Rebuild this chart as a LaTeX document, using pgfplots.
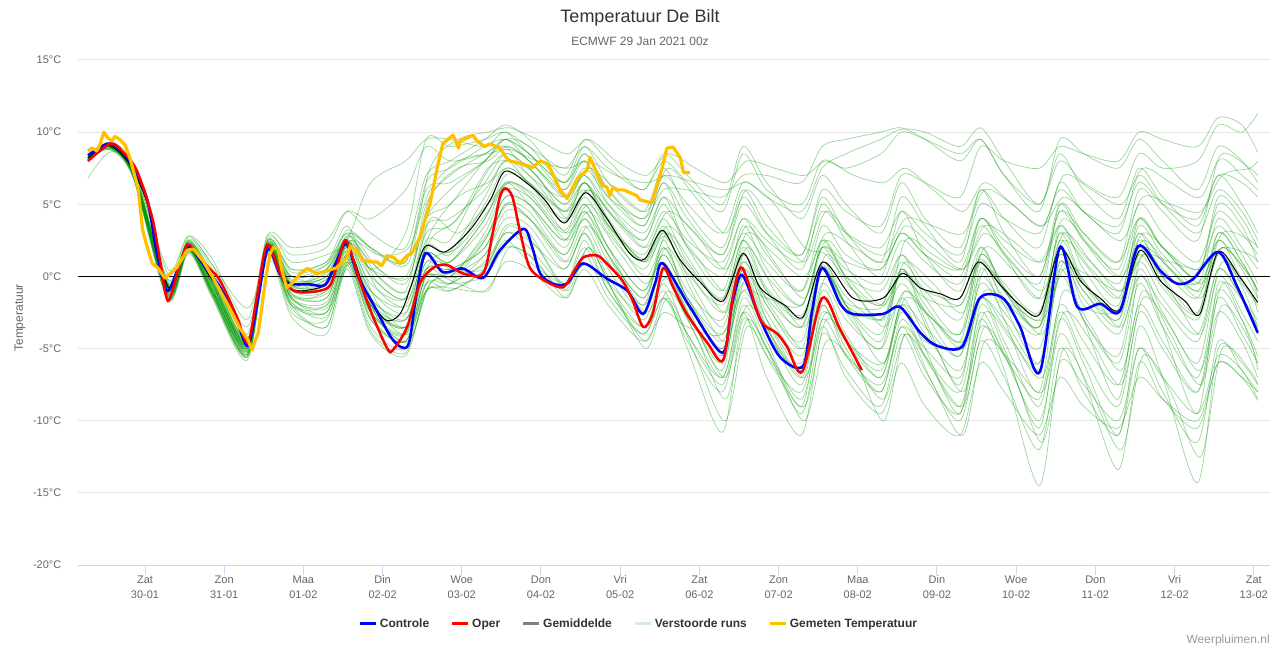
\documentclass[border=0pt]{standalone}
\usepackage{fontspec}
\setmainfont{Liberation Sans}
\usepackage{pgfplots}
\pgfplotsset{compat=1.18}
\definecolor{ttl}{HTML}{333333}
\definecolor{lbl}{HTML}{666666}
\definecolor{gridc}{HTML}{E6E6E6}
\definecolor{axc}{HTML}{CCD6EB}
\definecolor{ensc}{HTML}{009900}
\definecolor{meas}{HTML}{FFC000}
\definecolor{legens}{HTML}{D5EDD5}
\definecolor{credit}{HTML}{999999}
\definecolor{ctrl}{HTML}{0000FF}
\definecolor{oper}{HTML}{FF0000}
\pgfplotsset{
  ens/.style={color=ensc, draw opacity=0.38, line width=0.55pt, smooth, tension=0.5, forget plot},
}
\begin{document}
\begin{tikzpicture}[x=1pt,y=1pt]
\path[use as bounding box] (0,0) rectangle (960,487.5);
\node[text=ttl, font=\fontsize{13.5}{16}\selectfont] at (480,474) {Temperatuur De Bilt};
\node[text=lbl, font=\fontsize{9}{11}\selectfont] at (480,456.75) {ECMWF 29 Jan 2021 00z};
\node[text=lbl, rotate=90, font=\fontsize{9}{11}\selectfont] at (15,249) {Temperatuur};
\node[text=credit, anchor=east, inner sep=0pt, font=\fontsize{9}{11}\selectfont] at (952.5,7.5) {Weerpluimen.nl};
\begin{axis}[
  at={(58.5pt,63.75pt)}, anchor=south west,
  scale only axis, width=894pt, height=378.75pt,
  xmin=-0.846, xmax=14.205, ymin=-20, ymax=15,
  axis x line*=bottom, axis y line*=left,
  x axis line style={draw=axc, line width=0.75pt, -},
  y axis line style={draw=none},
  xtick={0,1,...,14},
  xticklabels={{Zat\\30-01},{Zon\\31-01},{Maa\\01-02},{Din\\02-02},{Woe\\03-02},{Don\\04-02},{Vri\\05-02},{Zat\\06-02},{Zon\\07-02},{Maa\\08-02},{Din\\09-02},{Woe\\10-02},{Don\\11-02},{Vri\\12-02},{Zat\\13-02}},
  xtick align=outside,
  major tick length=7.5pt,
  xtick style={draw=axc, line width=0.75pt},
  ytick={-20,-15,-10,-5,0,5,10,15},
  yticklabels={-20°C,-15°C,-10°C,-5°C,0°C,5°C,10°C,15°C},
  ytick style={draw=none},
  ymajorgrids, grid style={draw=gridc, line width=0.75pt},
  ticklabel style={text=lbl, font=\fontsize{8.25}{11.25}\selectfont},
  xticklabel style={align=center, yshift=3pt},
  yticklabel style={xshift=-9pt},
  legend columns=5,
  legend style={at={(0.4706,-0.1168)}, anchor=center, draw=none, fill=none,
    font=\bfseries\fontsize{9}{11}\selectfont, text=ttl,
    /tikz/every even column/.append style={column sep=14pt}},
  legend image code/.code={\draw (0pt,0pt) -- (12pt,0pt);},
]
% ensemble members
\addplot[ens] coordinates {(-0.72,8.2)(-0.45,9.0)(-0.15,7.2)(0.29,-0.9)(0.55,2.0)(0.85,-0.7)(1.29,-4.9)(1.55,2.2)(1.85,-0.9)(2.29,-0.8)(2.55,2.0)(2.85,-1.8)(3.29,-3.0)(3.55,1.5)(3.85,1.0)(4.29,3.5)(4.55,6.5)(4.85,5.8)(5.29,3.2)(5.55,5.5)(5.85,3.0)(6.29,0.5)(6.55,2.8)(6.85,0.2)(7.29,-2.0)(7.55,1.5)(7.85,-1.0)(8.29,-3.0)(8.55,0.8)(8.85,-1.8)(9.29,-2.2)(9.55,0.0)(9.85,-1.5)(10.29,-2.0)(10.55,1.2)(10.85,-1.0)(11.29,-3.0)(11.55,2.0)(11.85,-0.5)(12.29,-2.5)(12.55,1.5)(12.85,-0.8)(13.29,-3.0)(13.55,1.5)(13.85,-0.5)(14.05,-2.0)};
\addplot[ens] coordinates {(-0.72,8.4)(-0.45,9.2)(-0.15,7.5)(0.29,-0.5)(0.55,2.4)(0.85,0.2)(1.29,-4.5)(1.55,2.5)(1.85,0.5)(2.29,1.0)(2.55,3.5)(2.85,0.5)(3.29,3.0)(3.55,9.5)(3.85,9.0)(4.29,9.5)(4.55,10.0)(4.85,9.0)(5.29,7.5)(5.55,9.0)(5.85,7.5)(6.29,6.0)(6.55,8.0)(6.85,6.5)(7.29,4.5)(7.55,8.5)(7.85,6.0)(8.29,5.0)(8.55,8.0)(8.85,7.5)(9.29,8.5)(9.55,10.0)(9.85,9.5)(10.29,8.5)(10.55,9.5)(10.85,7.0)(11.29,5.0)(11.55,8.0)(11.85,6.5)(12.29,5.5)(12.55,8.5)(12.85,7.5)(13.29,8.0)(13.55,10.5)(13.85,10.0)(14.05,11.3)};
\addplot[ens] coordinates {(-0.72,8.0)(-0.45,9.0)(-0.15,7.0)(0.29,-1.5)(0.55,1.8)(0.85,-1.2)(1.29,-5.5)(1.55,1.8)(1.85,-2.0)(2.29,-3.5)(2.55,1.0)(2.85,-3.5)(3.29,-5.0)(3.55,-0.5)(3.85,-0.5)(4.29,1.0)(4.55,3.0)(4.85,2.5)(5.29,0.5)(5.55,3.0)(5.85,0.0)(6.29,-3.0)(6.55,0.0)(6.85,-3.0)(7.29,-7.0)(7.55,-1.5)(7.85,-4.5)(8.29,-9.0)(8.55,-2.0)(8.85,-5.5)(9.29,-8.0)(9.55,-3.5)(9.85,-6.5)(10.29,-10.0)(10.55,-4.5)(10.85,-7.0)(11.29,-12.0)(11.55,-5.0)(11.85,-8.0)(12.29,-11.0)(12.55,-5.0)(12.85,-8.0)(13.29,-11.5)(13.55,-4.5)(13.85,-6.5)(14.05,-8.0)};
\addplot[ens] coordinates {(-0.72,8.3)(-0.45,9.1)(-0.15,7.6)(0.29,-0.2)(0.55,2.6)(0.85,0.8)(1.29,-3.5)(1.55,2.6)(1.85,1.5)(2.29,2.0)(2.55,4.5)(2.85,4.0)(3.29,6.0)(3.55,9.0)(3.85,8.0)(4.29,8.5)(4.55,9.5)(4.85,8.5)(5.29,6.0)(5.55,8.0)(5.85,5.5)(6.29,3.5)(6.55,6.5)(6.85,3.0)(7.29,0.5)(7.55,4.0)(7.85,1.5)(8.29,-1.0)(8.55,2.5)(8.85,0.0)(9.29,-1.0)(9.55,1.5)(9.85,-0.5)(10.29,-2.0)(10.55,1.0)(10.85,-1.5)(11.29,-3.5)(11.55,1.5)(11.85,-1.0)(12.29,-3.0)(12.55,2.0)(12.85,0.5)(13.29,-1.5)(13.55,3.0)(13.85,1.0)(14.05,-1.0)};
\addplot[ens] coordinates {(-0.72,8.1)(-0.45,9.0)(-0.15,7.0)(0.29,-1.2)(0.55,1.9)(0.85,-0.9)(1.29,-5.2)(1.55,2.0)(1.85,-1.5)(2.29,-1.8)(2.55,1.5)(2.85,-2.5)(3.29,-4.0)(3.55,0.5)(3.85,0.5)(4.29,2.0)(4.55,5.0)(4.85,4.5)(5.29,1.5)(5.55,4.0)(5.85,1.5)(6.29,-1.5)(6.55,1.5)(6.85,-1.5)(7.29,-4.0)(7.55,0.5)(7.85,-2.5)(8.29,-5.5)(8.55,-0.5)(8.85,-3.0)(9.29,-5.0)(9.55,-1.5)(9.85,-4.0)(10.29,-6.5)(10.55,-1.5)(10.85,-3.5)(11.29,-6.5)(11.55,0.0)(11.85,-3.0)(12.29,-6.0)(12.55,-0.5)(12.85,-3.5)(13.29,-7.0)(13.55,-1.0)(13.85,-3.0)(14.05,-5.5)};
\addplot[ens] coordinates {(-0.72,8.2)(-0.45,9.1)(-0.15,7.4)(0.29,-0.6)(0.55,2.3)(0.85,-0.4)(1.29,-4.6)(1.55,2.3)(1.85,-0.2)(2.29,0.0)(2.55,2.8)(2.85,1.0)(3.29,-0.5)(3.55,4.0)(3.85,6.0)(4.29,8.0)(4.55,9.5)(4.85,9.0)(5.29,6.5)(5.55,8.5)(5.85,6.0)(6.29,4.0)(6.55,7.0)(6.85,5.0)(7.29,3.0)(7.55,6.5)(7.85,5.5)(8.29,4.5)(8.55,7.5)(8.85,8.5)(9.29,9.5)(9.55,10.2)(9.85,10.0)(10.29,9.0)(10.55,10.3)(10.85,8.0)(11.29,5.0)(11.55,8.5)(11.85,6.0)(12.29,4.0)(12.55,7.5)(12.85,5.5)(13.29,3.5)(13.55,7.0)(13.85,5.0)(14.05,3.0)};
\addplot[ens] coordinates {(-0.72,8.0)(-0.45,8.9)(-0.15,7.1)(0.29,-1.0)(0.55,2.0)(0.85,-1.0)(1.29,-5.0)(1.55,1.9)(1.85,-1.5)(2.29,-2.5)(2.55,1.5)(2.85,-2.0)(3.29,-3.5)(3.55,0.0)(3.85,0.0)(4.29,1.5)(4.55,4.0)(4.85,3.5)(5.29,0.5)(5.55,3.0)(5.85,-0.5)(6.29,-3.5)(6.55,-1.0)(6.85,-5.0)(7.29,-10.8)(7.55,-3.0)(7.85,-5.5)(8.29,-8.0)(8.55,-2.5)(8.85,-4.5)(9.29,-6.5)(9.55,-2.0)(9.85,-3.5)(10.29,-5.5)(10.55,-0.5)(10.85,-2.5)(11.29,-5.0)(11.55,1.0)(11.85,-1.5)(12.29,-4.0)(12.55,0.0)(12.85,-2.0)(13.29,-4.5)(13.55,0.5)(13.85,-1.5)(14.05,-3.5)};
\addplot[ens] coordinates {(-0.72,8.3)(-0.45,9.2)(-0.15,7.3)(0.29,-0.7)(0.55,2.2)(0.85,-0.6)(1.29,-4.7)(1.55,2.1)(1.85,-0.5)(2.29,0.5)(2.55,2.5)(2.85,0.0)(3.29,-1.5)(3.55,3.0)(3.85,3.5)(4.29,6.5)(4.55,8.5)(4.85,7.5)(5.29,5.0)(5.55,7.0)(5.85,4.5)(6.29,2.5)(6.55,5.0)(6.85,2.0)(7.29,0.0)(7.55,3.0)(7.85,1.0)(8.29,-1.0)(8.55,3.5)(8.85,1.5)(9.29,0.5)(9.55,3.0)(9.85,1.5)(10.29,0.0)(10.55,4.0)(10.85,2.0)(11.29,0.0)(11.55,4.5)(11.85,2.5)(12.29,0.5)(12.55,5.0)(12.85,3.0)(13.29,1.0)(13.55,4.5)(13.85,3.0)(14.05,1.5)};
\addplot[ens] coordinates {(-0.72,8.1)(-0.45,9.0)(-0.15,7.2)(0.29,-1.3)(0.55,1.9)(0.85,-1.3)(1.29,-5.4)(1.55,1.8)(1.85,-2.5)(2.29,-3.0)(2.55,1.2)(2.85,-3.0)(3.29,-4.5)(3.55,-0.5)(3.85,-1.0)(4.29,0.5)(4.55,3.5)(4.85,3.0)(5.29,-0.5)(5.55,2.5)(5.85,-1.0)(6.29,-3.5)(6.55,-0.5)(6.85,-4.0)(7.29,-7.5)(7.55,-2.5)(7.85,-7.0)(8.29,-11.0)(8.55,-4.0)(8.85,-6.5)(9.29,-9.0)(9.55,-4.0)(9.85,-7.0)(10.29,-9.5)(10.55,-3.5)(10.85,-5.5)(11.29,-8.5)(11.55,-2.0)(11.85,-4.5)(12.29,-7.5)(12.55,-2.0)(12.85,-4.5)(13.29,-8.0)(13.55,-2.5)(13.85,-4.5)(14.05,-7.0)};
\addplot[ens] coordinates {(-0.72,8.2)(-0.45,9.1)(-0.15,7.5)(0.29,-0.3)(0.55,2.5)(0.85,0.5)(1.29,-4.0)(1.55,2.8)(1.85,1.0)(2.29,1.5)(2.55,2.5)(2.85,6.5)(3.29,8.0)(3.55,9.5)(3.85,9.5)(4.29,9.0)(4.55,10.0)(4.85,8.5)(5.29,6.5)(5.55,8.0)(5.85,5.0)(6.29,2.5)(6.55,5.5)(6.85,2.0)(7.29,-1.0)(7.55,3.5)(7.85,0.5)(8.29,-2.0)(8.55,2.0)(8.85,-0.5)(9.29,-2.0)(9.55,1.0)(9.85,-1.0)(10.29,-3.0)(10.55,1.5)(10.85,-0.5)(11.29,-2.5)(11.55,3.0)(11.85,1.0)(12.29,-1.5)(12.55,3.5)(12.85,1.5)(13.29,-0.5)(13.55,4.0)(13.85,2.0)(14.05,0.5)};
\addplot[ens] coordinates {(-0.72,8.2)(-0.45,9.1)(-0.15,7.2)(0.29,-0.8)(0.55,2.1)(0.85,-0.8)(1.29,-4.9)(1.55,2.0)(1.85,-1.0)(2.29,-0.5)(2.55,2.2)(2.85,-1.0)(3.29,-2.5)(3.55,2.0)(3.85,1.5)(4.29,5.0)(4.55,7.5)(4.85,6.5)(5.29,4.0)(5.55,6.5)(5.85,3.5)(6.29,1.0)(6.55,3.5)(6.85,0.5)(7.29,-2.5)(7.55,1.0)(7.85,-1.5)(8.29,-3.5)(8.55,0.5)(8.85,-2.0)(9.29,-3.0)(9.55,-0.5)(9.85,-2.5)(10.29,-4.0)(10.55,0.0)(10.85,-2.0)(11.29,-4.0)(11.55,1.5)(11.85,-1.0)(12.29,-3.5)(12.55,1.0)(12.85,-1.5)(13.29,-4.0)(13.55,0.5)(13.85,-1.5)(14.05,-3.0)};
\addplot[ens] coordinates {(-0.72,8.0)(-0.45,8.8)(-0.15,6.9)(0.29,-1.6)(0.55,1.7)(0.85,-1.4)(1.29,-5.6)(1.55,1.6)(1.85,-2.0)(2.29,-2.0)(2.55,1.0)(2.85,-2.5)(3.29,-4.0)(3.55,-1.0)(3.85,-0.5)(4.29,2.5)(4.55,5.5)(4.85,5.0)(5.29,2.5)(5.55,5.0)(5.85,2.0)(6.29,-1.0)(6.55,2.0)(6.85,-1.5)(7.29,-5.0)(7.55,-0.5)(7.85,-3.5)(8.29,-7.0)(8.55,-1.5)(8.85,-4.5)(9.29,-7.0)(9.55,-2.5)(9.85,-5.5)(10.29,-9.0)(10.55,-3.0)(10.85,-6.5)(11.29,-14.5)(11.55,-6.0)(11.85,-7.5)(12.29,-10.0)(12.55,-5.0)(12.85,-7.0)(13.29,-9.5)(13.55,-5.5)(13.85,-6.5)(14.05,-8.5)};
\addplot[ens] coordinates {(-0.72,8.3)(-0.45,9.2)(-0.15,7.4)(0.29,-0.6)(0.55,2.4)(0.85,-0.2)(1.29,-4.4)(1.55,2.4)(1.85,0.0)(2.29,0.5)(2.55,3.0)(2.85,0.5)(3.29,-1.0)(3.55,5.0)(3.85,7.0)(4.29,8.5)(4.55,9.0)(4.85,7.0)(5.29,5.5)(5.55,7.5)(5.85,5.5)(6.29,4.0)(6.55,6.0)(6.85,6.0)(7.29,5.5)(7.55,7.0)(7.85,7.0)(8.29,6.5)(8.55,9.0)(8.85,9.5)(9.29,10.0)(9.55,10.3)(9.85,9.5)(10.29,8.0)(10.55,9.5)(10.85,7.0)(11.29,4.5)(11.55,9.5)(11.85,8.5)(12.29,7.5)(12.55,9.5)(12.85,8.0)(13.29,6.0)(13.55,9.0)(13.85,8.0)(14.05,6.5)};
\addplot[ens] coordinates {(-0.72,8.1)(-0.45,9.0)(-0.15,7.0)(0.29,-1.1)(0.55,2.0)(0.85,-1.0)(1.29,-5.1)(1.55,2.1)(1.85,-1.2)(2.29,-1.5)(2.55,1.8)(2.85,-2.2)(3.29,-3.5)(3.55,1.0)(3.85,0.0)(4.29,3.0)(4.55,6.0)(4.85,5.5)(5.29,3.0)(5.55,5.0)(5.85,2.0)(6.29,-2.0)(6.55,2.5)(6.85,-2.0)(7.29,-6.5)(7.55,1.0)(7.85,-3.0)(8.29,-6.5)(8.55,0.5)(8.85,-2.5)(9.29,-5.0)(9.55,0.5)(9.85,-3.0)(10.29,-7.5)(10.55,0.5)(10.85,-3.0)(11.29,-8.0)(11.55,1.0)(11.85,-3.0)(12.29,-8.5)(12.55,0.0)(12.85,-3.5)(13.29,-9.5)(13.55,-0.5)(13.85,-3.0)(14.05,-6.0)};
\addplot[ens] coordinates {(-0.72,8.2)(-0.45,9.0)(-0.15,7.3)(0.29,-0.9)(0.55,2.1)(0.85,-0.5)(1.29,-4.8)(1.55,2.2)(1.85,-0.7)(2.29,-0.2)(2.55,2.5)(2.85,-1.0)(3.29,-2.0)(3.55,2.5)(3.85,2.5)(4.29,7.0)(4.55,8.5)(4.85,7.5)(5.29,5.0)(5.55,6.5)(5.85,4.5)(6.29,2.0)(6.55,4.5)(6.85,2.5)(7.29,1.0)(7.55,4.0)(7.85,2.5)(8.29,1.0)(8.55,4.5)(8.85,3.0)(9.29,2.0)(9.55,4.5)(9.85,3.0)(10.29,1.5)(10.55,5.0)(10.85,4.0)(11.29,3.0)(11.55,6.0)(11.85,4.5)(12.29,3.5)(12.55,6.5)(12.85,5.0)(13.29,4.0)(13.55,7.0)(13.85,6.5)(14.05,5.5)};
\addplot[ens] coordinates {(-0.72,8.0)(-0.45,8.9)(-0.15,7.0)(0.29,-1.4)(0.55,1.8)(0.85,-1.1)(1.29,-5.3)(1.55,1.7)(1.85,-1.8)(2.29,-2.5)(2.55,1.4)(2.85,-2.8)(3.29,-4.5)(3.55,0.0)(3.85,-0.5)(4.29,1.5)(4.55,4.5)(4.85,4.0)(5.29,1.0)(5.55,3.5)(5.85,0.5)(6.29,-2.5)(6.55,0.5)(6.85,-2.5)(7.29,-5.5)(7.55,-1.0)(7.85,-4.0)(8.29,-6.5)(8.55,-2.0)(8.85,-5.0)(9.29,-8.0)(9.55,-3.0)(9.85,-5.5)(10.29,-8.0)(10.55,-2.5)(10.85,-5.5)(11.29,-10.0)(11.55,-4.0)(11.85,-7.0)(12.29,-13.4)(12.55,-6.0)(12.85,-8.5)(13.29,-10.5)(13.55,-6.0)(13.85,-7.0)(14.05,-8.6)};
\addplot[ens] coordinates {(-0.72,8.3)(-0.45,9.2)(-0.15,7.2)(0.29,-1.0)(0.55,2.1)(0.85,-0.6)(1.29,-4.8)(1.55,1.9)(1.85,-0.6)(2.29,-0.6)(2.55,2.3)(2.85,-2.5)(3.29,-4.0)(3.55,1.5)(3.85,0.5)(4.29,0.5)(4.55,2.5)(4.85,1.0)(5.29,-0.5)(5.55,0.8)(5.85,-0.5)(6.29,-2.5)(6.55,0.8)(6.85,-2.0)(7.29,-5.0)(7.55,0.2)(7.85,-3.0)(8.29,-6.0)(8.55,0.6)(8.85,-2.5)(9.29,-2.7)(9.55,-2.1)(9.85,-4.5)(10.29,-4.8)(10.55,-1.5)(10.85,-3.0)(11.29,-6.0)(11.55,2.0)(11.85,-2.0)(12.29,-2.3)(12.55,2.0)(12.85,0.0)(13.29,-0.5)(13.55,1.7)(13.85,-0.7)(14.05,-3.5)};
\addplot[ens] coordinates {(-0.72,8.2)(-0.45,9.1)(-0.15,7.4)(0.29,-0.7)(0.55,2.3)(0.85,-0.3)(1.29,-4.5)(1.55,2.4)(1.85,0.0)(2.29,0.8)(2.55,3.2)(2.85,2.0)(3.29,1.0)(3.55,6.0)(3.85,6.5)(4.29,8.0)(4.55,9.5)(4.85,8.0)(5.29,6.0)(5.55,8.5)(5.85,6.0)(6.29,3.5)(6.55,6.5)(6.85,4.0)(7.29,1.5)(7.55,5.5)(7.85,3.0)(8.29,0.5)(8.55,5.0)(8.85,2.5)(9.29,0.0)(9.55,4.5)(9.85,1.5)(10.29,-1.0)(10.55,4.0)(10.85,1.5)(11.29,-1.5)(11.55,5.0)(11.85,3.0)(12.29,1.0)(12.55,6.0)(12.85,4.5)(13.29,2.5)(13.55,8.0)(13.85,7.0)(14.05,6.0)};
\addplot[ens] coordinates {(-0.72,8.1)(-0.45,9.0)(-0.15,7.1)(0.29,-1.2)(0.55,1.9)(0.85,-1.0)(1.29,-5.0)(1.55,2.0)(1.85,-1.3)(2.29,-1.5)(2.55,1.7)(2.85,-2.0)(3.29,-3.5)(3.55,0.5)(3.85,0.5)(4.29,2.0)(4.55,5.0)(4.85,4.0)(5.29,1.5)(5.55,4.0)(5.85,1.0)(6.29,-2.0)(6.55,1.0)(6.85,-2.5)(7.29,-6.0)(7.55,0.0)(7.85,-3.5)(8.29,-7.5)(8.55,-1.0)(8.85,-4.0)(9.29,-7.0)(9.55,-2.0)(9.85,-5.0)(10.29,-9.5)(10.55,-2.0)(10.85,-5.0)(11.29,-10.5)(11.55,-3.0)(11.85,-6.0)(12.29,-11.0)(12.55,-3.5)(12.85,-7.0)(13.29,-14.3)(13.55,-5.0)(13.85,-6.0)(14.05,-7.5)};
\addplot[ens] coordinates {(-0.72,8.3)(-0.45,9.1)(-0.15,7.3)(0.29,-0.5)(0.55,2.4)(0.85,-0.4)(1.29,-4.6)(1.55,2.2)(1.85,-0.3)(2.29,0.2)(2.55,2.6)(2.85,-0.5)(3.29,-1.5)(3.55,3.5)(3.85,4.0)(4.29,6.0)(4.55,8.0)(4.85,7.0)(5.29,4.5)(5.55,6.0)(5.85,3.5)(6.29,1.5)(6.55,4.0)(6.85,1.0)(7.29,-1.5)(7.55,2.5)(7.85,0.0)(8.29,-2.0)(8.55,2.0)(8.85,0.5)(9.29,-0.5)(9.55,2.5)(9.85,1.0)(10.29,-0.5)(10.55,3.5)(10.85,1.5)(11.29,-0.5)(11.55,4.5)(11.85,3.0)(12.29,1.0)(12.55,4.0)(12.85,2.0)(13.29,0.5)(13.55,3.5)(13.85,1.5)(14.05,-0.5)};
\addplot[ens] coordinates {(-0.72,8.1)(-0.45,8.9)(-0.15,7.0)(0.29,-1.3)(0.55,1.8)(0.85,-1.2)(1.29,-5.5)(1.55,1.8)(1.85,-1.6)(2.29,-2.0)(2.55,1.3)(2.85,-3.0)(3.29,-4.5)(3.55,0.0)(3.85,-0.5)(4.29,0.0)(4.55,2.0)(4.85,1.5)(5.29,-1.0)(5.55,1.5)(5.85,-1.5)(6.29,-4.0)(6.55,-1.5)(6.85,-4.5)(7.29,-8.0)(7.55,-2.5)(7.85,-5.0)(8.29,-8.5)(8.55,-3.0)(8.85,-5.5)(9.29,-7.5)(9.55,-3.5)(9.85,-5.0)(10.29,-7.0)(10.55,-1.5)(10.85,-4.5)(11.29,-9.0)(11.55,-2.5)(11.85,-5.5)(12.29,-9.0)(12.55,-2.5)(12.85,-5.0)(13.29,-8.0)(13.55,-1.5)(13.85,-4.0)(14.05,-6.0)};
\addplot[ens] coordinates {(-0.72,8.2)(-0.45,9.1)(-0.15,7.3)(0.29,-0.6)(0.55,2.2)(0.85,-0.4)(1.29,-4.7)(1.55,2.2)(1.85,-0.4)(2.29,0.0)(2.55,2.4)(2.85,0.5)(3.29,0.0)(3.55,4.0)(3.85,5.0)(4.29,8.0)(4.55,9.0)(4.85,8.0)(5.29,5.5)(5.55,7.0)(5.85,5.0)(6.29,3.0)(6.55,5.5)(6.85,3.5)(7.29,1.5)(7.55,5.0)(7.85,3.0)(8.29,1.5)(8.55,6.0)(8.85,4.5)(9.29,3.5)(9.55,7.0)(9.85,6.5)(10.29,5.5)(10.55,9.0)(10.85,8.0)(11.29,7.5)(11.55,9.0)(11.85,8.5)(12.29,8.0)(12.55,10.0)(12.85,9.5)(13.29,9.0)(13.55,11.0)(13.85,10.5)(14.05,8.6)};
\addplot[ens] coordinates {(-0.72,8.2)(-0.45,9.0)(-0.15,7.2)(0.29,-1.0)(0.55,2.0)(0.85,-0.9)(1.29,-5.0)(1.55,2.0)(1.85,-1.0)(2.29,-1.0)(2.55,2.0)(2.85,-2.0)(3.29,-3.0)(3.55,1.0)(3.85,1.0)(4.29,4.0)(4.55,7.0)(4.85,6.5)(5.29,4.5)(5.55,6.5)(5.85,4.0)(6.29,1.0)(6.55,3.0)(6.85,0.0)(7.29,-3.5)(7.55,1.5)(7.85,-2.0)(8.29,-4.5)(8.55,1.0)(8.85,-2.0)(9.29,-4.5)(9.55,0.5)(9.85,-2.5)(10.29,-5.5)(10.55,1.0)(10.85,-2.0)(11.29,-6.0)(11.55,0.5)(11.85,-3.0)(12.29,-5.5)(12.55,0.5)(12.85,-2.5)(13.29,-6.0)(13.55,0.0)(13.85,-2.5)(14.05,-4.5)};
\addplot[ens] coordinates {(-0.72,8.0)(-0.45,8.9)(-0.15,6.9)(0.29,-1.5)(0.55,1.7)(0.85,-1.3)(1.29,-5.6)(1.55,1.6)(1.85,-2.2)(2.29,-3.5)(2.55,0.8)(2.85,-3.8)(3.29,-5.3)(3.55,-1.0)(3.85,-0.8)(4.29,-1.0)(4.55,1.0)(4.85,0.5)(5.29,-1.5)(5.55,0.5)(5.85,-2.0)(6.29,-4.5)(6.55,-2.5)(6.85,-3.5)(7.29,-4.0)(7.55,-1.0)(7.85,-1.5)(8.29,-2.0)(8.55,2.0)(8.85,1.0)(9.29,0.5)(9.55,3.0)(9.85,1.5)(10.29,0.5)(10.55,4.0)(10.85,2.5)(11.29,1.0)(11.55,3.5)(11.85,1.5)(12.29,-0.5)(12.55,3.0)(12.85,1.0)(13.29,-1.0)(13.55,2.5)(13.85,0.5)(14.05,-1.5)};
\addplot[ens] coordinates {(-0.72,8.4)(-0.45,9.3)(-0.15,7.8)(0.29,0.2)(0.55,2.8)(0.85,1.2)(1.29,-3.0)(1.55,2.9)(1.85,2.0)(2.29,2.5)(2.55,4.5)(2.85,3.0)(3.29,2.0)(3.55,7.0)(3.85,8.0)(4.29,9.5)(4.55,10.5)(4.85,9.5)(5.29,7.0)(5.55,9.5)(5.85,8.0)(6.29,6.0)(6.55,8.5)(6.85,7.0)(7.29,5.0)(7.55,9.0)(7.85,6.5)(8.29,4.0)(8.55,7.0)(8.85,5.0)(9.29,3.0)(9.55,6.5)(9.85,4.0)(10.29,2.0)(10.55,6.0)(10.85,4.0)(11.29,2.0)(11.55,6.5)(11.85,4.5)(12.29,3.0)(12.55,7.0)(12.85,5.0)(13.29,3.0)(13.55,6.0)(13.85,4.5)(14.05,2.5)};
\addplot[ens] coordinates {(-0.72,8.2)(-0.45,9.1)(-0.15,7.3)(0.29,-0.8)(0.55,2.1)(0.85,-0.8)(1.29,-4.8)(1.55,2.1)(1.85,-0.8)(2.29,-0.6)(2.55,2.1)(2.85,-1.6)(3.29,-2.6)(3.55,2.1)(3.85,1.7)(4.29,5.5)(4.55,8.0)(4.85,6.4)(5.29,3.8)(5.55,6.5)(5.85,3.6)(6.29,1.2)(6.55,3.2)(6.85,0.8)(7.29,-1.6)(7.55,2.5)(7.85,-0.8)(8.29,-2.7)(8.55,1.0)(8.85,-1.4)(9.29,-3.0)(9.55,0.3)(9.85,-1.0)(10.29,-1.5)(10.55,2.0)(10.85,-0.8)(11.29,-2.6)(11.55,3.0)(11.85,-0.3)(12.29,-2.3)(12.55,3.0)(12.85,-0.5)(13.29,-2.6)(13.55,2.5)(13.85,-0.3)(14.05,-1.8)};
\addplot[ens] coordinates {(-0.72,8.1)(-0.45,9.0)(-0.15,7.1)(0.29,-1.1)(0.55,1.9)(0.85,-1.0)(1.29,-5.2)(1.55,1.9)(1.85,-1.4)(2.29,-1.0)(2.55,1.8)(2.85,-2.0)(3.29,-3.5)(3.55,1.5)(3.85,1.0)(4.29,4.0)(4.55,6.5)(4.85,5.0)(5.29,2.0)(5.55,4.5)(5.85,1.5)(6.29,-1.5)(6.55,2.0)(6.85,-1.0)(7.29,-3.0)(7.55,2.0)(7.85,-1.0)(8.29,-3.5)(8.55,2.5)(8.85,0.0)(9.29,-2.0)(9.55,1.5)(9.85,-1.5)(10.29,-4.0)(10.55,2.0)(10.85,-1.0)(11.29,-3.5)(11.55,3.5)(11.85,0.5)(12.29,-2.0)(12.55,4.0)(12.85,2.0)(13.29,0.0)(13.55,5.5)(13.85,4.0)(14.05,2.0)};
\addplot[ens] coordinates {(-0.72,8.0)(-0.45,8.8)(-0.15,6.8)(0.29,-1.7)(0.55,1.6)(0.85,-1.5)(1.29,-5.8)(1.55,1.5)(1.85,-2.8)(2.29,-4.0)(2.55,0.5)(2.85,-4.0)(3.29,-5.5)(3.55,-1.0)(3.85,-1.0)(4.29,0.5)(4.55,3.0)(4.85,2.0)(5.29,-0.5)(5.55,2.0)(5.85,-1.0)(6.29,-4.0)(6.55,-1.5)(6.85,-4.0)(7.29,-7.0)(7.55,-2.0)(7.85,-5.0)(8.29,-9.5)(8.55,-3.5)(8.85,-7.0)(9.29,-9.5)(9.55,-6.0)(9.85,-9.0)(10.29,-11.0)(10.55,-6.0)(10.85,-8.0)(11.29,-11.0)(11.55,-7.0)(11.85,-9.0)(12.29,-10.5)(12.55,-7.0)(12.85,-8.5)(13.29,-10.0)(13.55,-6.0)(13.85,-7.0)(14.05,-8.0)};
\addplot[ens] coordinates {(-0.72,8.3)(-0.45,9.2)(-0.15,7.5)(0.29,-0.4)(0.55,2.5)(0.85,0.0)(1.29,-4.3)(1.55,2.5)(1.85,0.5)(2.29,1.0)(2.55,3.0)(2.85,2.0)(3.29,1.0)(3.55,6.5)(3.85,7.5)(4.29,9.0)(4.55,9.5)(4.85,8.5)(5.29,6.5)(5.55,9.0)(5.85,6.5)(6.29,4.5)(6.55,7.5)(6.85,4.5)(7.29,2.0)(7.55,6.0)(7.85,3.5)(8.29,1.5)(8.55,5.5)(8.85,3.0)(9.29,1.0)(9.55,5.5)(9.85,3.5)(10.29,1.0)(10.55,6.0)(10.85,3.0)(11.29,0.0)(11.55,5.0)(11.85,2.5)(12.29,0.0)(12.55,4.0)(12.85,2.0)(13.29,0.0)(13.55,5.0)(13.85,3.5)(14.05,1.0)};
\addplot[ens] coordinates {(-0.72,6.8)(-0.45,8.6)(-0.15,7.6)(0.29,0.5)(0.55,2.8)(0.85,0.8)(1.29,-2.2)(1.55,1.0)(1.85,0.0)(2.29,-0.5)(2.55,2.0)(2.85,-1.5)(3.29,-3.0)(3.55,0.5)(3.85,0.0)(4.29,2.5)(4.55,5.5)(4.85,5.0)(5.29,2.5)(5.55,4.5)(5.85,2.0)(6.29,-1.0)(6.55,1.5)(6.85,-1.5)(7.29,-4.5)(7.55,0.5)(7.85,-2.0)(8.29,-5.0)(8.55,0.5)(8.85,-2.0)(9.29,-4.0)(9.55,0.5)(9.85,-2.0)(10.29,-4.5)(10.55,1.5)(10.85,-1.0)(11.29,-3.5)(11.55,2.5)(11.85,-0.5)(12.29,-3.0)(12.55,2.5)(12.85,0.0)(13.29,-2.5)(13.55,3.0)(13.85,1.0)(14.05,-1.0)};
\addplot[ens] coordinates {(-0.72,8.2)(-0.45,9.0)(-0.15,7.3)(0.29,-0.7)(0.55,2.2)(0.85,-0.3)(1.29,-4.6)(1.55,2.3)(1.85,-0.5)(2.29,0.3)(2.6,2.5)(2.95,1.5)(3.33,2.0)(3.6,6.0)(3.95,8.0)(4.33,8.5)(4.6,8.8)(4.95,8.0)(5.33,7.5)(5.6,8.0)(5.95,7.0)(6.33,6.5)(6.6,7.0)(6.95,6.5)(7.33,6.0)(7.6,6.5)(7.95,5.0)(8.33,2.0)(8.6,1.5)(8.95,-1.0)(9.33,-3.5)(9.6,-1.0)(9.95,-3.0)(10.33,-5.0)(10.6,-1.0)(10.95,-2.0)(11.33,-3.0)(11.6,0.5)(11.95,0.0)(12.33,-1.0)(12.6,1.5)(12.95,1.0)(13.33,0.5)(13.6,2.0)(13.95,1.5)(14.05,1.0)};
\addplot[ens] coordinates {(-0.72,8.1)(-0.45,9.0)(-0.15,7.1)(0.29,-1.2)(0.55,2.0)(0.85,-1.0)(1.29,-5.1)(1.55,2.0)(1.85,-1.5)(2.29,-2.2)(2.6,1.2)(2.95,-2.5)(3.33,-4.0)(3.6,0.0)(3.95,-0.5)(4.33,-1.0)(4.6,2.0)(4.95,1.0)(5.33,-1.5)(5.6,2.0)(5.95,-1.5)(6.33,-4.5)(6.6,-1.0)(6.95,-4.0)(7.33,-8.5)(7.6,-3.0)(7.95,-6.0)(8.33,-10.0)(8.6,-4.5)(8.95,-6.0)(9.33,-8.5)(9.6,-4.0)(9.95,-6.5)(10.33,-9.0)(10.6,-3.5)(10.95,-6.5)(11.33,-11.5)(11.6,-5.0)(11.95,-8.0)(12.33,-12.0)(12.6,-5.5)(12.95,-8.0)(13.33,-12.5)(13.6,-5.0)(13.95,-6.5)(14.05,-7.5)};
\addplot[ens] coordinates {(-0.72,8.2)(-0.45,9.1)(-0.15,7.3)(0.29,-0.9)(0.55,2.1)(0.85,-0.6)(1.29,-4.9)(1.55,2.1)(1.85,-0.7)(2.29,-0.4)(2.6,2.3)(2.95,-0.5)(3.33,-1.5)(3.6,3.0)(3.95,5.5)(4.33,6.5)(4.6,7.5)(4.95,6.0)(5.33,4.5)(5.6,6.0)(5.95,4.0)(6.33,2.0)(6.6,4.5)(6.95,3.0)(7.33,0.5)(7.6,3.5)(7.95,1.0)(8.33,-1.5)(8.6,2.5)(8.95,0.0)(9.33,-2.0)(9.6,1.0)(9.95,-0.5)(10.33,-2.5)(10.6,2.0)(10.95,0.5)(11.33,-1.5)(11.6,3.0)(11.95,1.0)(12.33,-1.0)(12.6,2.5)(12.95,0.5)(13.33,-1.5)(13.6,2.0)(13.95,0.0)(14.05,-1.0)};
\addplot[ens] coordinates {(-0.72,8.3)(-0.45,9.2)(-0.15,7.4)(0.29,-0.5)(0.55,2.4)(0.85,0.0)(1.29,-4.4)(1.55,2.5)(1.85,0.3)(2.29,0.8)(2.6,3.0)(2.95,1.5)(3.33,1.0)(3.6,7.5)(3.95,9.5)(4.33,10.0)(4.6,10.3)(4.95,9.5)(5.33,8.5)(5.6,9.5)(5.95,8.0)(6.33,7.0)(6.6,8.5)(6.95,7.5)(7.33,6.5)(7.6,8.0)(7.95,7.5)(8.33,7.0)(8.6,8.0)(8.95,7.0)(9.33,6.5)(9.6,7.5)(9.95,6.0)(10.33,4.5)(10.6,6.5)(10.95,5.0)(11.33,3.5)(11.6,5.5)(11.95,4.0)(12.33,2.5)(12.6,5.5)(12.95,5.0)(13.33,4.5)(13.6,7.0)(13.95,7.5)(14.05,8.0)};
\addplot[ens] coordinates {(-0.72,8.1)(-0.45,8.9)(-0.15,7.0)(0.29,-1.3)(0.55,1.8)(0.85,-1.2)(1.29,-5.3)(1.55,1.8)(1.85,-1.8)(2.29,-2.8)(2.6,1.0)(2.95,-3.0)(3.33,-4.5)(3.6,-0.5)(3.95,0.5)(4.33,3.0)(4.6,5.0)(4.95,3.5)(5.33,1.0)(5.6,3.5)(5.95,0.5)(6.33,-2.5)(6.6,0.0)(6.95,-3.5)(7.33,-7.0)(7.6,-2.0)(7.95,-4.5)(8.33,-7.0)(8.6,-2.5)(8.95,-5.5)(9.33,-10.0)(9.6,-4.0)(9.95,-7.5)(10.33,-11.0)(10.6,-4.5)(10.95,-6.0)(11.33,-8.0)(11.6,-2.5)(11.95,-4.5)(12.33,-7.5)(12.6,-1.5)(12.95,-3.5)(13.33,-6.5)(13.6,-0.5)(13.95,-2.5)(14.05,-4.0)};
\addplot[ens] coordinates {(-0.72,8.2)(-0.45,9.1)(-0.15,7.4)(0.29,-0.6)(0.55,2.3)(0.85,-0.2)(1.29,-4.6)(1.55,2.3)(1.85,0.0)(2.29,0.5)(2.6,2.8)(2.95,0.5)(3.33,0.0)(3.6,5.5)(3.95,7.5)(4.33,8.0)(4.6,9.0)(4.95,7.5)(5.33,5.5)(5.6,7.5)(5.95,6.0)(6.33,4.5)(6.6,7.5)(6.95,5.5)(7.33,3.0)(7.6,6.0)(7.95,3.5)(8.33,1.0)(8.6,4.5)(8.95,2.5)(9.33,1.5)(9.6,4.0)(9.95,3.5)(10.33,3.0)(10.6,6.0)(10.95,5.0)(11.33,3.5)(11.6,7.0)(11.95,6.0)(12.33,5.0)(12.6,7.5)(12.95,6.5)(13.33,5.5)(13.6,8.5)(13.95,7.5)(14.05,7.0)};
\addplot[ens] coordinates {(-0.72,8.2)(-0.45,9.0)(-0.15,7.2)(0.29,-1.0)(0.55,2.0)(0.85,-0.9)(1.29,-5.0)(1.55,2.0)(1.85,-1.2)(2.29,-1.2)(2.6,1.8)(2.95,-2.0)(3.33,-3.5)(3.6,1.0)(3.95,2.0)(4.33,4.5)(4.6,6.5)(4.95,5.0)(5.33,2.5)(5.6,4.5)(5.95,2.0)(6.33,-0.5)(6.6,2.0)(6.95,-1.5)(7.33,-4.5)(7.6,0.0)(7.95,-2.5)(8.33,-5.0)(8.6,0.0)(8.95,-3.0)(9.33,-6.0)(9.6,-1.0)(9.95,-4.5)(10.33,-8.0)(10.6,-2.5)(10.95,-4.5)(11.33,-7.0)(11.6,-1.0)(11.95,-3.5)(12.33,-6.5)(12.6,-1.0)(12.95,-4.0)(13.33,-7.5)(13.6,-2.0)(13.95,-4.5)(14.05,-6.5)};
\addplot[ens] coordinates {(-0.72,8.3)(-0.45,9.1)(-0.15,7.3)(0.29,-0.7)(0.55,2.2)(0.85,-0.5)(1.29,-4.7)(1.55,2.2)(1.85,-0.5)(2.29,0.0)(2.6,2.5)(2.95,0.0)(3.33,-1.0)(3.6,4.0)(3.95,3.0)(4.33,5.0)(4.6,6.5)(4.95,5.5)(5.33,3.0)(5.6,5.0)(5.95,2.5)(6.33,0.0)(6.6,3.0)(6.95,0.5)(7.33,-2.5)(7.6,2.0)(7.95,-1.0)(8.33,-3.5)(8.6,1.5)(8.95,-1.0)(9.33,-3.0)(9.6,2.5)(9.95,1.5)(10.33,0.5)(10.6,3.5)(10.95,2.5)(11.33,1.0)(11.6,4.0)(11.95,2.0)(12.33,0.0)(12.6,3.0)(12.95,1.5)(13.33,-0.5)(13.6,2.0)(13.95,0.0)(14.05,-1.5)};
\addplot[ens] coordinates {(-0.72,8.0)(-0.45,8.9)(-0.15,7.0)(0.29,-1.4)(0.55,1.8)(0.85,-1.2)(1.29,-5.4)(1.55,1.7)(1.85,-2.0)(2.29,-2.5)(2.6,1.0)(2.95,-3.0)(3.33,-4.5)(3.6,-0.5)(3.95,0.0)(4.33,1.0)(4.6,3.5)(4.95,2.0)(5.33,-1.0)(5.6,2.0)(5.95,-1.5)(6.33,-5.0)(6.6,-1.5)(6.95,-5.5)(7.33,-10.0)(7.6,-3.5)(7.95,-6.5)(8.33,-9.0)(8.6,-3.0)(8.95,-5.0)(9.33,-6.0)(9.6,-1.5)(9.95,-3.0)(10.33,-4.5)(10.6,0.5)(10.95,-1.5)(11.33,-4.0)(11.6,1.0)(11.95,-1.0)(12.33,-3.5)(12.6,1.5)(12.95,-1.0)(13.33,-4.0)(13.6,1.0)(13.95,-1.0)(14.05,-2.5)};
\addplot[ens] coordinates {(-0.72,8.2)(-0.45,9.1)(-0.15,7.3)(0.29,-0.8)(0.55,2.2)(0.85,-0.6)(1.29,-4.8)(1.55,2.1)(1.85,-0.6)(2.29,-0.2)(2.6,2.4)(2.95,-1.0)(3.33,-2.0)(3.6,2.5)(3.95,4.0)(4.33,7.5)(4.6,8.0)(4.95,7.0)(5.33,4.0)(5.6,6.0)(5.95,3.0)(6.33,1.0)(6.6,3.5)(6.95,1.5)(7.33,-1.0)(7.6,3.0)(7.95,1.5)(8.33,0.0)(8.6,3.0)(8.95,2.0)(9.33,1.0)(9.6,3.5)(9.95,2.0)(10.33,0.5)(10.6,3.0)(10.95,1.0)(11.33,-1.0)(11.6,2.5)(11.95,0.5)(12.33,-1.5)(12.6,2.0)(12.95,0.5)(13.33,-1.0)(13.6,3.0)(13.95,2.5)(14.05,2.0)};
% zero line
\addplot[black, line width=0.75pt, forget plot] coordinates {(-0.846,0)(14.205,0)};
% Gemiddelde
\addplot[black, line width=0.75pt, smooth, tension=0.5, forget plot] coordinates {(-0.72,8.2)(-0.59,8.8)(-0.47,9.1)(-0.32,8.6)(-0.15,7.4)(0.03,5.0)(0.15,1.8)(0.30,-0.8)(0.42,0.6)(0.54,2.1)(0.67,1.3)(0.82,0.0)(0.95,-1.0)(1.16,-3.3)(1.30,-4.8)(1.43,-1.5)(1.55,2.1)(1.65,1.2)(1.77,-0.6)(1.96,-1.0)(2.27,-0.6)(2.40,0.8)(2.53,2.2)(2.65,1.0)(2.78,-1.0)(3.03,-3.0)(3.22,-2.6)(3.37,-0.5)(3.54,2.1)(3.79,1.7)(4.10,3.2)(4.36,5.3)(4.55,7.3)(4.86,6.3)(5.05,5.3)(5.30,3.7)(5.56,5.8)(5.82,4.1)(6.12,1.6)(6.31,1.2)(6.53,3.2)(6.75,1.2)(7.01,-0.4)(7.30,-1.7)(7.55,1.6)(7.77,-0.8)(8.08,-2.0)(8.31,-2.8)(8.56,1.0)(8.94,-1.5)(9.32,-1.5)(9.56,0.2)(9.79,-0.8)(10.04,-1.2)(10.29,-1.5)(10.52,1.0)(10.80,-0.6)(11.05,-2.0)(11.30,-2.6)(11.55,1.9)(11.81,-0.3)(12.06,-1.5)(12.31,-2.3)(12.56,1.8)(12.82,-0.3)(13.13,-1.7)(13.32,-2.6)(13.55,1.7)(13.83,-0.1)(14.05,-1.8)};
% Controle
\addplot[ctrl, line width=1.9pt, smooth, tension=0.5, forget plot] coordinates {(-0.72,8.4)(-0.47,9.2)(-0.32,8.8)(-0.15,7.6)(0.03,5.3)(0.15,1.6)(0.28,-1.0)(0.42,0.6)(0.54,2.1)(0.69,1.2)(0.82,0.2)(0.95,-0.75)(1.16,-3.0)(1.30,-4.8)(1.43,-1.5)(1.55,1.9)(1.70,0.2)(1.83,-0.5)(2.08,-0.55)(2.27,-0.6)(2.40,0.8)(2.54,2.3)(2.69,0.0)(2.88,-1.9)(3.13,-4.4)(3.32,-4.8)(3.42,-1.5)(3.54,1.6)(3.76,0.3)(4.01,0.55)(4.27,-0.1)(4.48,1.8)(4.78,3.3)(4.89,2.0)(4.99,0.2)(5.15,-0.5)(5.33,-0.5)(5.53,0.9)(5.83,-0.15)(6.09,-1.0)(6.29,-2.6)(6.44,-0.5)(6.54,0.9)(6.88,-2.1)(7.29,-5.3)(7.41,-2.0)(7.54,0.1)(7.77,-3.0)(8.02,-5.6)(8.31,-6.2)(8.42,-2.5)(8.55,0.6)(8.78,-1.9)(8.94,-2.6)(9.32,-2.6)(9.53,-2.1)(9.79,-3.9)(10.0,-4.8)(10.32,-4.85)(10.54,-1.5)(10.83,-1.5)(11.05,-3.5)(11.30,-6.6)(11.55,2.0)(11.77,-2.1)(12.06,-1.9)(12.31,-2.4)(12.54,2.1)(12.82,0.4)(13.03,-0.5)(13.23,-0.2)(13.55,1.7)(13.79,-0.7)(14.05,-3.9)};
% Oper
\addplot[oper, line width=1.9pt, smooth, tension=0.5, forget plot] coordinates {(-0.72,8.0)(-0.44,9.2)(-0.29,8.7)(-0.10,7.3)(0.09,4.1)(0.19,1.1)(0.29,-1.7)(0.42,0.5)(0.54,2.2)(0.69,1.3)(0.82,0.5)(0.95,-0.3)(1.16,-2.8)(1.30,-4.6)(1.41,-1.5)(1.54,2.2)(1.70,0.3)(1.83,-0.8)(1.96,-1.1)(2.20,-1.0)(2.34,-0.6)(2.44,1.0)(2.54,2.5)(2.71,-0.3)(2.88,-2.8)(3.06,-5.0)(3.13,-5.1)(3.31,-3.5)(3.47,-0.5)(3.64,0.6)(3.81,0.8)(4.02,0.2)(4.27,0.2)(4.39,3.0)(4.48,5.5)(4.55,6.1)(4.64,5.5)(4.74,3.0)(4.86,0.6)(5.08,-0.4)(5.28,-0.75)(5.40,0.2)(5.53,1.3)(5.71,1.45)(5.83,0.9)(6.03,-0.3)(6.16,-1.7)(6.29,-3.5)(6.41,-2.6)(6.54,0.55)(6.67,-0.75)(6.84,-2.6)(7.10,-4.6)(7.30,-5.8)(7.42,-1.5)(7.54,0.6)(7.77,-3.0)(7.98,-3.95)(8.11,-4.9)(8.30,-6.6)(8.55,-1.5)(8.78,-3.7)(9.05,-6.5)};
% Gemeten
\addplot[meas, line width=2.4pt, line join=round, forget plot] coordinates {(-0.72,8.7)(-0.67,8.9)(-0.61,8.7)(-0.57,9.1)(-0.52,10.0)(-0.47,9.6)(-0.42,9.4)(-0.38,9.7)(-0.32,9.5)(-0.25,9.1)(-0.19,8.2)(-0.09,6.2)(-0.03,3.2)(0.03,2.0)(0.09,0.9)(0.16,0.6)(0.25,-0.1)(0.32,0.2)(0.40,0.6)(0.53,1.8)(0.61,1.9)(0.73,1.1)(0.86,-0.1)(1.04,-1.9)(1.20,-3.6)(1.30,-4.4)(1.35,-5.1)(1.43,-3.9)(1.52,-0.3)(1.58,1.6)(1.62,2.0)(1.68,1.9)(1.73,0.4)(1.79,-0.8)(1.87,-0.4)(1.96,0.2)(2.05,0.55)(2.17,0.2)(2.30,0.4)(2.42,0.6)(2.55,1.3)(2.59,2.1)(2.68,1.8)(2.75,1.1)(2.88,1.0)(2.93,1.0)(2.99,0.75)(3.06,1.45)(3.14,1.3)(3.22,0.9)(3.31,1.45)(3.37,1.6)(3.47,2.7)(3.60,5.05)(3.69,7.55)(3.76,9.2)(3.89,9.8)(3.96,8.9)(3.98,9.4)(4.07,9.6)(4.14,9.8)(4.19,9.4)(4.29,9.0)(4.36,9.2)(4.43,9.0)(4.48,8.9)(4.56,8.25)(4.61,8.0)(4.77,7.8)(4.89,7.55)(4.95,7.8)(4.99,8.0)(5.09,7.8)(5.24,6.0)(5.33,5.4)(5.46,6.8)(5.58,7.35)(5.62,8.25)(5.71,7.1)(5.77,6.3)(5.83,6.2)(5.87,5.6)(5.91,6.2)(5.96,6.0)(6.04,6.0)(6.21,5.6)(6.25,5.3)(6.40,5.1)(6.46,6.2)(6.53,7.55)(6.59,8.9)(6.67,8.95)(6.76,8.2)(6.80,7.2)(6.88,7.2)};
% legend
\addlegendimage{ctrl, line width=2.25pt}
\addlegendentry{Controle}
\addlegendimage{oper, line width=2.25pt}
\addlegendentry{Oper}
\addlegendimage{gray, line width=2.25pt}
\addlegendentry{Gemiddelde}
\addlegendimage{legens, line width=2.25pt}
\addlegendentry{Verstoorde runs}
\addlegendimage{meas, line width=2.25pt}
\addlegendentry{Gemeten Temperatuur}
\end{axis}
\end{tikzpicture}
\end{document}
